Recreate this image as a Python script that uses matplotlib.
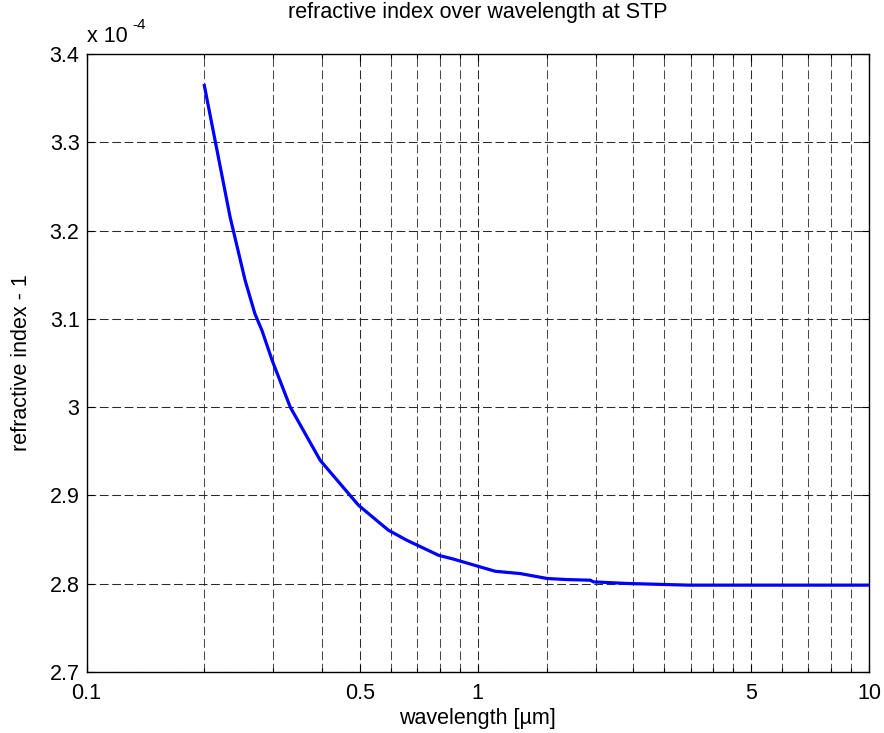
import matplotlib
matplotlib.use("Agg")
import matplotlib.pyplot as plt
from matplotlib.ticker import FixedLocator, FixedFormatter, NullFormatter

plt.rcParams['font.family'] = ['Liberation Sans', 'DejaVu Sans']
plt.rcParams['lines.scale_dashes'] = False

# wavelength in micrometres and (n - 1) in units of 1e-4
wavelength = [0.2, 0.2328, 0.2543, 0.2693, 0.2807, 0.2981, 0.3316, 0.3955,
              0.4955, 0.591, 0.659, 0.794, 0.865, 1.015, 1.108, 1.284,
              1.387, 1.505, 1.694, 1.94, 1.975, 2.41, 3.45, 10.0]
refr_minus_one = [3.3643, 3.2152, 3.1436, 3.1059, 3.0870, 3.0530, 3.0001, 2.9398,
                  2.8889, 2.8606, 2.8492, 2.8322, 2.8280, 2.8190, 2.8141, 2.8115,
                  2.8088, 2.8059, 2.8047, 2.8040, 2.8021, 2.8003, 2.7984, 2.7984]

x_major = [0.1, 0.5, 1, 5, 10]
x_major_labels = ['0.1', '0.5', '1', '5', '10']
x_minor = [0.2, 0.3, 0.4, 0.6, 0.7, 0.8, 0.9,
           1.5, 2, 2.5, 3, 3.5, 4, 4.5, 6, 7, 8, 9]
y_ticks = [2.7, 2.8, 2.9, 3.0, 3.1, 3.2, 3.3, 3.4]
y_labels = ['2.7', '2.8', '2.9', '3', '3.1', '3.2', '3.3', '3.4']

FS = 15.5

fig = plt.figure(figsize=(8.84, 7.33), dpi=100)
ax = fig.add_axes([0.0979, 0.0832, 0.8852, 0.8431])

ax.plot(wavelength, refr_minus_one, color=(0, 0, 1), lw=2.3, zorder=3,
        solid_joinstyle='round')

ax.set_xscale('log')
ax.set_xlim(0.1, 10)
ax.set_ylim(2.7, 3.4)

ax.xaxis.set_major_locator(FixedLocator(x_major))
ax.xaxis.set_major_formatter(FixedFormatter(x_major_labels))
ax.xaxis.set_minor_locator(FixedLocator(x_minor))
ax.xaxis.set_minor_formatter(NullFormatter())
ax.yaxis.set_major_locator(FixedLocator(y_ticks))
ax.yaxis.set_major_formatter(FixedFormatter(y_labels))

grid_dash = (0, (6.3, 2.6))
ax.grid(True, which='major', axis='both', color='#2a2a2a', lw=0.75, linestyle=grid_dash)
ax.grid(True, which='minor', axis='x', color='#4a4a4a', lw=0.75, linestyle=grid_dash)
ax.set_axisbelow(True)

ax.tick_params(which='both', direction='in', top=True, right=True,
               labelsize=FS, colors='black', width=0.8)
ax.tick_params(which='major', length=5)
ax.tick_params(which='minor', length=3)
ax.tick_params(axis='x', which='major', pad=8)
ax.tick_params(axis='y', which='major', pad=5)
for s in ax.spines.values():
    s.set_linewidth(1.0)
    s.set_color('black')

ax.set_title('refractive index over wavelength at STP', fontsize=FS, pad=26)
ax.set_xlabel('wavelength [µm]', fontsize=FS, labelpad=3)
ax.set_ylabel('refractive index - 1', fontsize=FS, labelpad=13)

# exponent multiplier above the y axis
ax.text(0.0, 1.012, 'x 10', transform=ax.transAxes, fontsize=FS,
        ha='left', va='bottom')
ax.text(0.058, 1.036, '-4', transform=ax.transAxes, fontsize=11,
        ha='left', va='bottom')

fig.savefig('out.png', dpi=100, facecolor='white')
